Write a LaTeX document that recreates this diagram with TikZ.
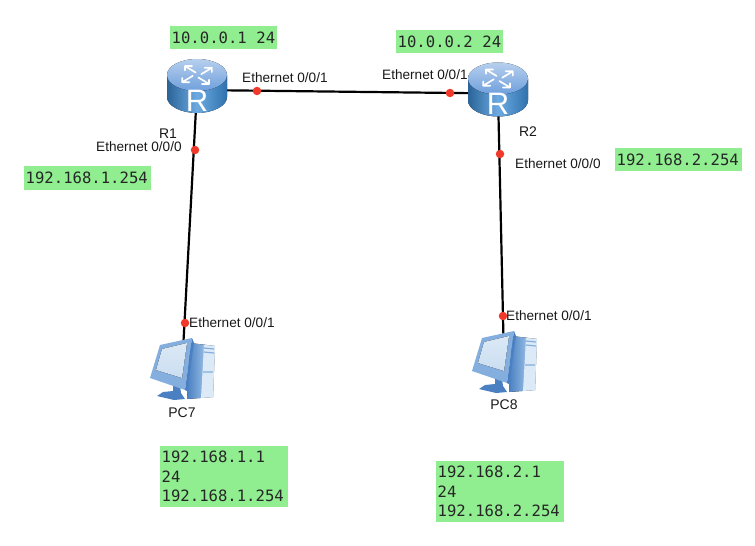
\documentclass[tikz,border=0pt]{standalone}
\usepackage{fontspec}
\setmainfont{Liberation Sans}
\newfontfamily\monof{DejaVu Sans Mono}
\usetikzlibrary{calc}
\definecolor{ipgreen}{HTML}{90EE90}
\definecolor{rtop}{HTML}{6E9FDC}
\definecolor{rside}{HTML}{3C8ED8}
\definecolor{pcd}{HTML}{4A80C2}
\definecolor{pcm}{HTML}{84AEDD}
\definecolor{pcl}{HTML}{DCE9F6}
\definecolor{portred}{HTML}{F0392B}
\tikzset{
 x=1pt,y=-1pt,
 iplabel/.style={fill=ipgreen,inner xsep=1.5pt,inner ysep=0pt,font=\monof\fontsize{15.6}{19.5}\selectfont,anchor=north west,align=left,text=black!85},
 portlabel/.style={font=\fontsize{13.6}{15}\selectfont,inner sep=0pt,text=black!90},
 namelabel/.style={font=\fontsize{14}{16}\selectfont,inner sep=0pt,text=black!90},
 link/.style={line width=2.2pt,black},
 port/.style={circle,fill=portred,draw=none,minimum size=8.5pt,inner sep=0pt},
 devbox/.style={inner sep=0pt,draw=none},
 rarrow/.style={white,line width=1.7pt,line cap=round,line join=round},
 router/.pic={
  \fill[left color=rside!70!black,right color=rside!80!black,middle color=rside!75!white]
   (-30,-15) -- (-30,7) .. controls (-30,16) and (-16,23) .. (0,23) .. controls (16,23) and (30,16) .. (30,7) -- (30,-15) -- cycle;
  \fill[top color=rtop!50!white,bottom color=rtop] (0,-15) ellipse[x radius=30,y radius=16];
  \foreach \a in {45,135,225,315}{
   \begin{scope}[shift={(0,-15)},yscale=.6,rotate=\a]
    \draw[rarrow] (4,2) -- (19,2) (14,-3) -- (19,2) -- (14,7);
   \end{scope}
  }
  \node[white,font=\fontsize{31}{31}\selectfont,inner sep=0pt] at (0,10.5) {R};
 },
 pcpic/.pic={
  % tower
  \fill[left color=pcd,right color=pcl,middle color=pcm] (8,-26) -- (33,-23) -- (31,28) -- (5,30) -- cycle;
  \fill[pcl] (22,-24) -- (33,-23) -- (31,28) -- (19,29) -- cycle;
  \draw[pcm,line width=1.2pt] (22,-21) -- (32,-20) (22,-17) -- (32,-16) (21,3) -- (31,3);
  % foot
  \fill[pcd] (-9,17) -- (-2,17) -- (-1,24) -- (3,30) -- (-8,31) -- (-25,27) -- (-19,23) -- (-9,22) -- cycle;
  % monitor
  \fill[pcm] (-22,-24) -- (10,-31) -- (3,21) -- (-32,9) -- cycle;
  \fill[pcd] (10,-31) -- (12,-26) -- (5,22) -- (3,21) -- cycle;
  \fill[top color=pcl,bottom color=pcl!80!pcm] (-20,-20) -- (5,-26) -- (0,9) -- (-26,1) -- cycle;
 }
}
\begin{document}
\begin{tikzpicture}
\useasboundingbox (0,0) rectangle (755,546);
% device anchors
\node[devbox,minimum width=60pt,minimum height=54pt] (R1) at (197,90) {};
\node[devbox,minimum width=60pt,minimum height=54pt] (R2) at (498,93.5) {};
\node[devbox,minimum width=50pt,minimum height=60pt] (PC7) at (182,369) {};
\node[devbox,minimum width=50pt,minimum height=60pt] (PC8) at (504,362) {};
% links
\draw[link] (R1.center) -- (R2.center);
\draw[link] (R1.center) -- (PC7.center);
\draw[link] (R2.center) -- (PC8.center);
% devices
\pic at (R1.center) {router};
\pic at (R2.center) {router};
\pic at (PC7.center) {pcpic};
\pic at (PC8.center) {pcpic};
% port dots
\node[port] (p1) at (257,91) {};
\node[port] (p2) at (450,93) {};
\node[port] (p3) at (195,150) {};
\node[port] (p4) at (185,323) {};
\node[port] (p5) at (500,154) {};
\node[port] (p6) at (503,316) {};
% port labels
\node[portlabel,anchor=west] (l1) at (242,78) {Ethernet 0/0/1};
\node[portlabel,anchor=west] (l2) at (382,75) {Ethernet 0/0/1};
\node[portlabel,anchor=west] (l3) at (96,147) {Ethernet 0/0/0};
\node[portlabel,anchor=west] (l4) at (189,323) {Ethernet 0/0/1};
\node[portlabel,anchor=west] (l5) at (515,164) {Ethernet 0/0/0};
\node[portlabel,anchor=west] (l6) at (506,316) {Ethernet 0/0/1};
% names
\node[namelabel] (n1) at (168,134) {R1};
\node[namelabel] (n2) at (528,132) {R2};
\node[namelabel] (n3) at (182,413) {PC7};
\node[namelabel] (n4) at (504,405) {PC8};
% IP boxes
\node[iplabel,minimum height=23pt,text width=104pt] (a1) at (170,26) {10.0.0.1 \hspace{4.4pt}24};
\node[iplabel,minimum height=23pt,text width=104pt] (a2) at (396,30) {10.0.0.2 \hspace{4.4pt}24};
\node[iplabel,minimum height=24pt,text width=124pt] (a3) at (24,166) {192.168.1.254};
\node[iplabel,minimum height=23pt,text width=124pt] (a4) at (615,148) {192.168.2.254};
\node[iplabel,minimum height=61pt,text width=125pt] (a5) at (160,446) {192.168.1.1\\24\\192.168.1.254};
\node[iplabel,minimum height=61pt,text width=125pt] (a6) at (436,461) {192.168.2.1\\24\\192.168.2.254};
\end{tikzpicture}
\end{document}
